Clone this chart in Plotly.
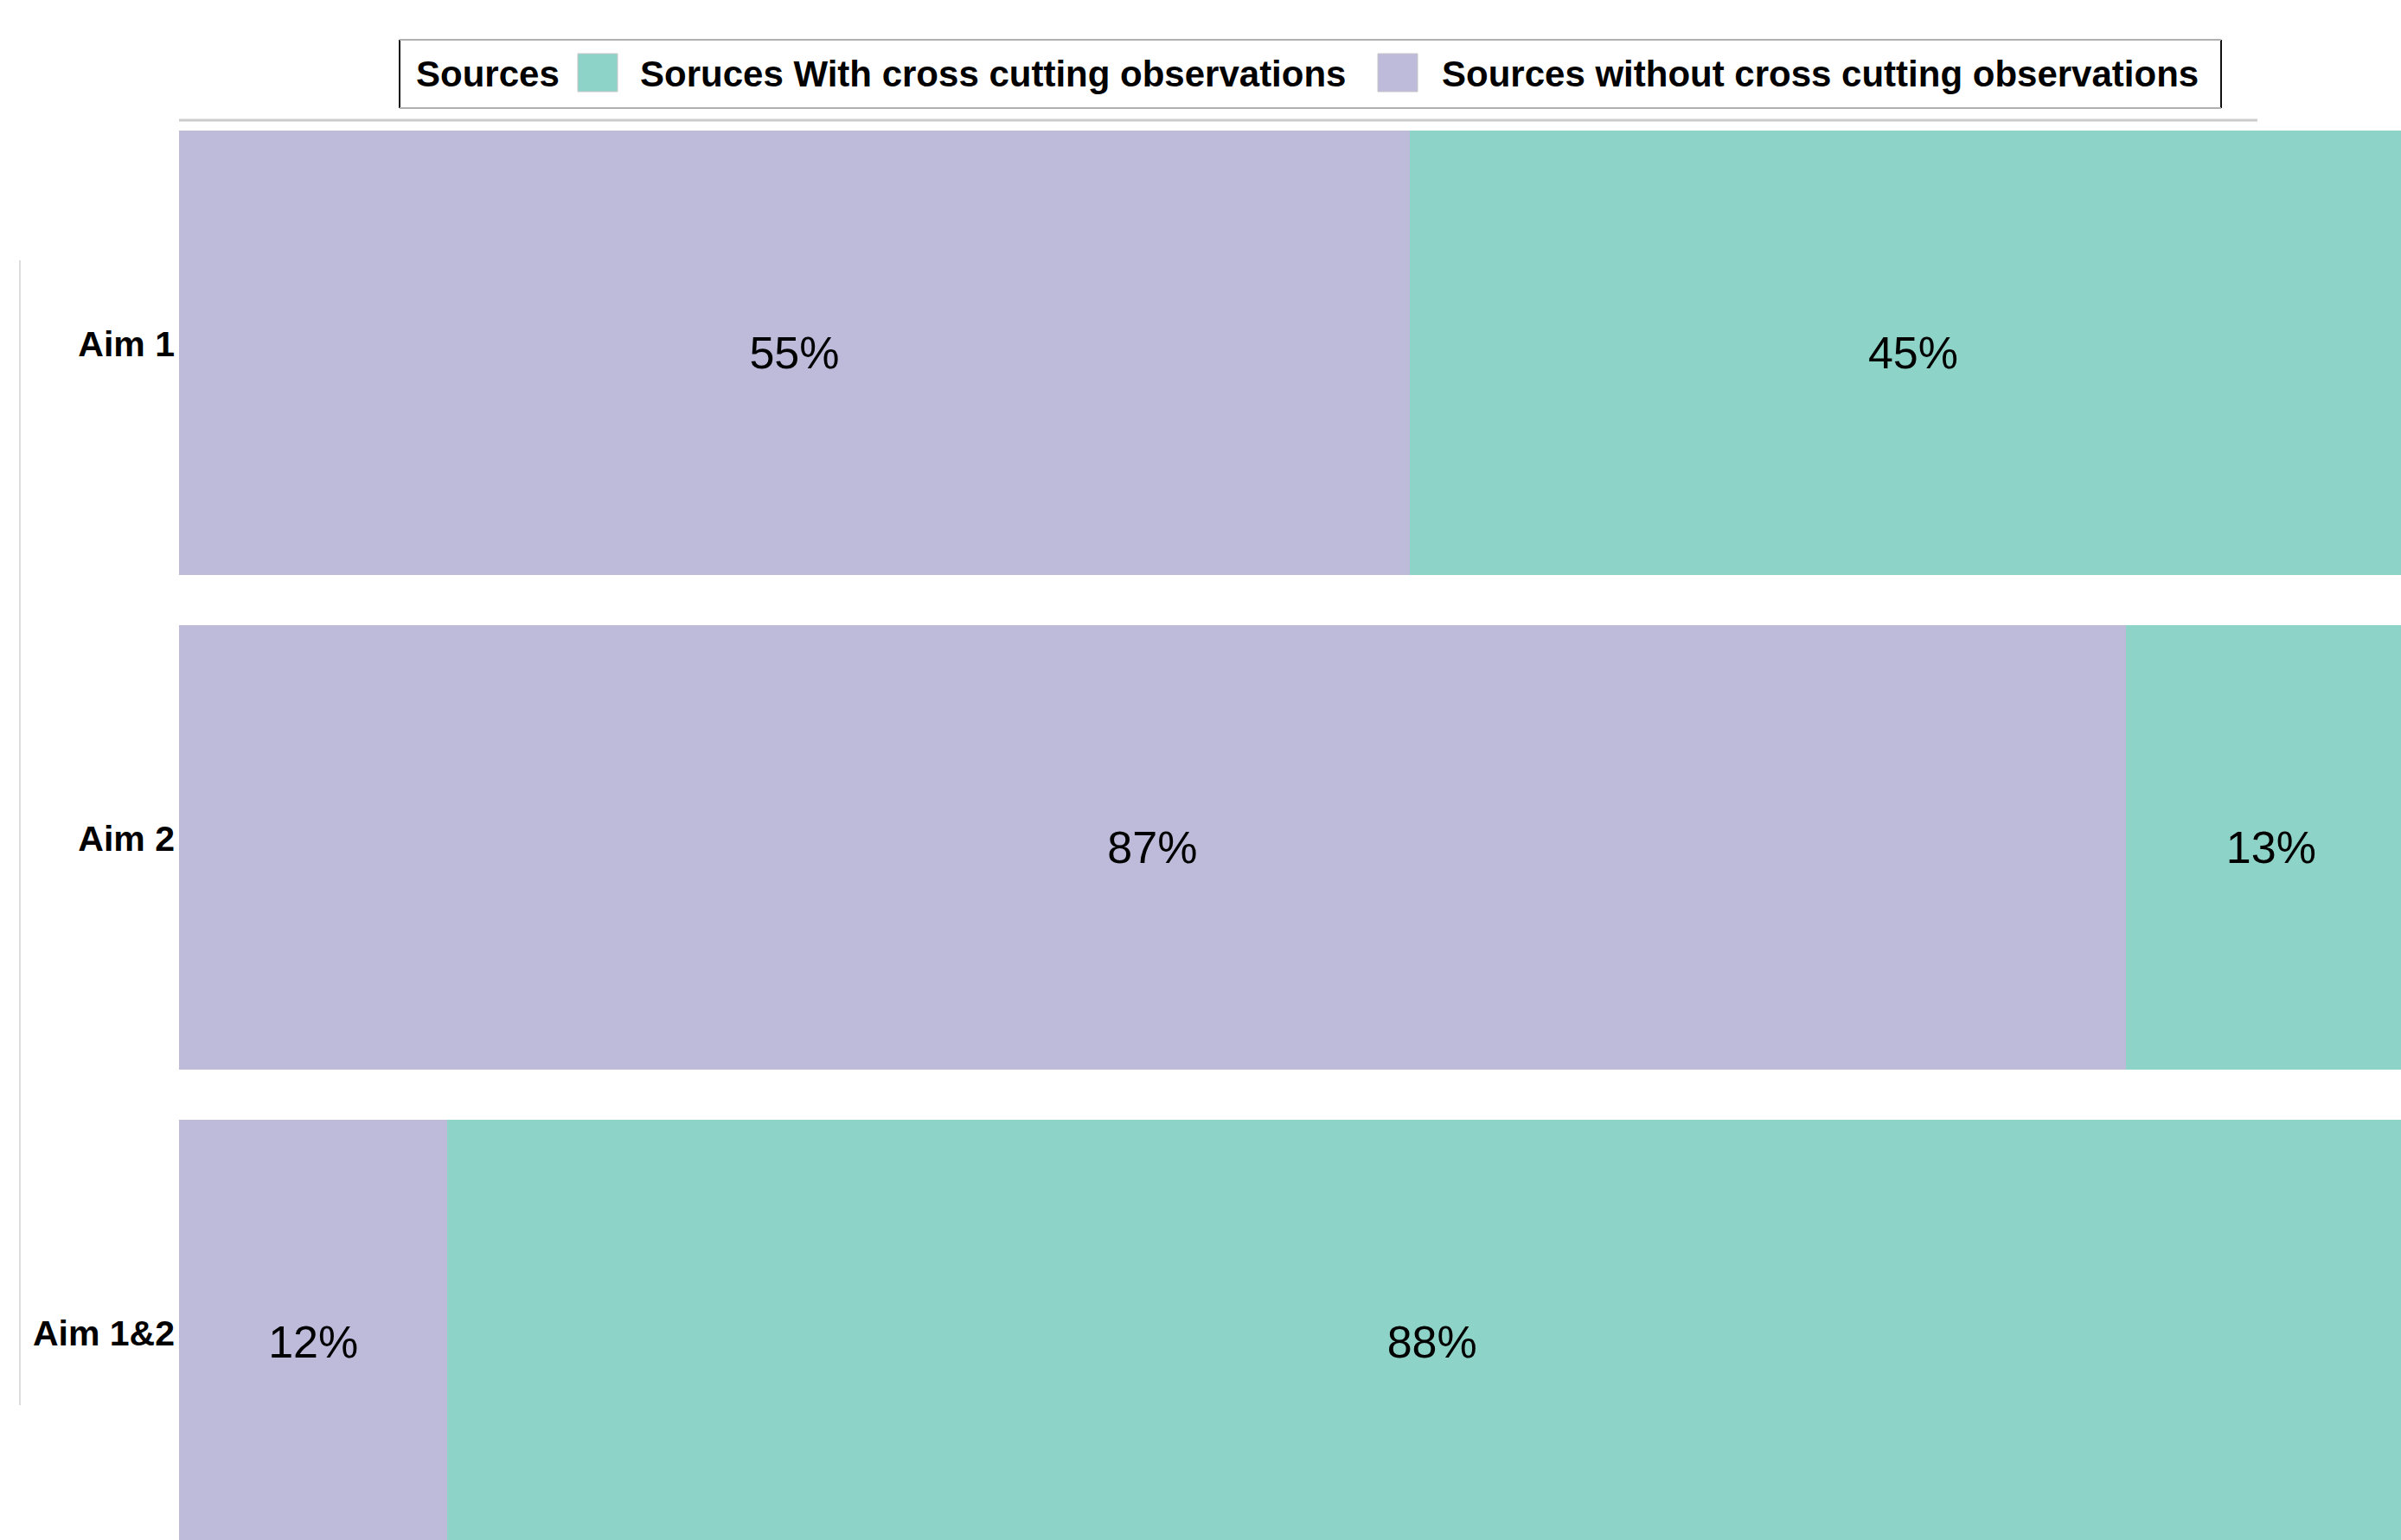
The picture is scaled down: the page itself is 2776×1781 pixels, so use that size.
import plotly.graph_objects as go

# ---- data ----
categories = ["Aim 1", "Aim 2", "Aim 1&2"]
without_vals = [55, 87, 12]
with_vals = [45, 13, 88]
series_names = ["Soruces With cross cutting observations",
                "Sources without cross cutting observations"]
legend_title = "Sources"

# ---- style ----
W, H = 2776, 1781
C_WITH = "#8DD3C7"
C_WITHOUT = "#BEBADA"
FONT = "Liberation Sans, Arial, sans-serif"
M_L, M_T = 207, 122
PLOT_W, PLOT_H = W - M_L, H - M_T
PX_PER_PCT = 25.87
PX_PER_CAT = 572

fig = go.Figure()
fig.add_trace(go.Bar(
    y=categories, x=without_vals, orientation="h", name=series_names[1],
    marker=dict(color=C_WITHOUT, line=dict(width=0)),
    texttemplate="%{x}%", textposition="inside", insidetextanchor="middle",
    constraintext="none",
    insidetextfont=dict(family=FONT, size=52, color="black"),
    showlegend=False,
))
fig.add_trace(go.Bar(
    y=categories, x=with_vals, orientation="h", name=series_names[0],
    marker=dict(color=C_WITH, line=dict(width=0)),
    texttemplate="%{x}%", textposition="inside", insidetextanchor="middle",
    constraintext="none",
    insidetextfont=dict(family=FONT, size=52, color="black"),
    showlegend=False,
))

def px_x(x):
    return (x - M_L) / PLOT_W

def px_y(y):
    return (H - y) / PLOT_H

shapes = []
annotations = []

# legend box (manual, large swatches)
lx0, lx1, ly0, ly1 = 462, 2568, 46, 125
shapes += [
    dict(type="line", xref="paper", yref="paper", x0=px_x(lx0), x1=px_x(lx0), y0=px_y(ly0), y1=px_y(ly1), line=dict(color="#111", width=2)),
    dict(type="line", xref="paper", yref="paper", x0=px_x(lx1), x1=px_x(lx1), y0=px_y(ly0), y1=px_y(ly1), line=dict(color="#111", width=2)),
    dict(type="line", xref="paper", yref="paper", x0=px_x(lx0), x1=px_x(lx1), y0=px_y(ly0), y1=px_y(ly0), line=dict(color="#b0b0b0", width=2)),
    dict(type="line", xref="paper", yref="paper", x0=px_x(lx0), x1=px_x(lx1), y0=px_y(ly1), y1=px_y(ly1), line=dict(color="#b0b0b0", width=2)),
]
ly_mid = 85
annotations.append(dict(text="<b>%s</b>" % legend_title, xref="paper", yref="paper",
                        x=px_x(479), y=px_y(ly_mid), xanchor="left", yanchor="middle",
                        showarrow=False, font=dict(family=FONT, size=42, color="black")))
items = [(C_WITH, series_names[0], 668, 738), (C_WITHOUT, series_names[1], 1593, 1665)]
for col, name, sx, tx in items:
    shapes.append(dict(type="rect", xref="paper", yref="paper",
                       x0=px_x(sx), x1=px_x(sx + 46), y0=px_y(62), y1=px_y(106),
                       fillcolor=col, line=dict(color="#c8c8c8", width=1)))
    annotations.append(dict(text="<b>%s</b>" % name, xref="paper", yref="paper",
                            x=px_x(tx), y=px_y(ly_mid), xanchor="left", yanchor="middle",
                            showarrow=False, font=dict(family=FONT, size=42, color="black")))

# faint frame lines of the original screenshot
shapes.append(dict(type="line", xref="paper", yref="paper", x0=px_x(207), x1=px_x(2610),
                   y0=px_y(139), y1=px_y(139), line=dict(color="#cccccc", width=3)))
shapes.append(dict(type="line", xref="paper", yref="paper", x0=px_x(23), x1=px_x(23),
                   y0=px_y(301), y1=px_y(1625), line=dict(color="#dddddd", width=2)))

fig.update_layout(
    width=W, height=H,
    barmode="stack", bargap=58 / PX_PER_CAT,
    paper_bgcolor="white", plot_bgcolor="white",
    margin=dict(l=M_L, r=0, t=M_T, b=0, pad=0),
    showlegend=False,
    xaxis=dict(visible=False, range=[0, PLOT_W / PX_PER_PCT], fixedrange=True),
    yaxis=dict(range=[-0.5 + PLOT_H / PX_PER_CAT, -0.5], showgrid=False, zeroline=False,
               showline=False, ticks="", ticklabelstandoff=4, ticklabelshift=10,
               tickfont=dict(family=FONT, size=41, color="black", weight="bold")),
    shapes=shapes, annotations=annotations,
    font=dict(family=FONT),
)

fig.write_html(
    "out.html",
    config={"displayModeBar": False},
    post_script="document.body.style.margin='0';document.body.style.overflow='hidden';"
                "document.documentElement.style.overflow='hidden';",
)
